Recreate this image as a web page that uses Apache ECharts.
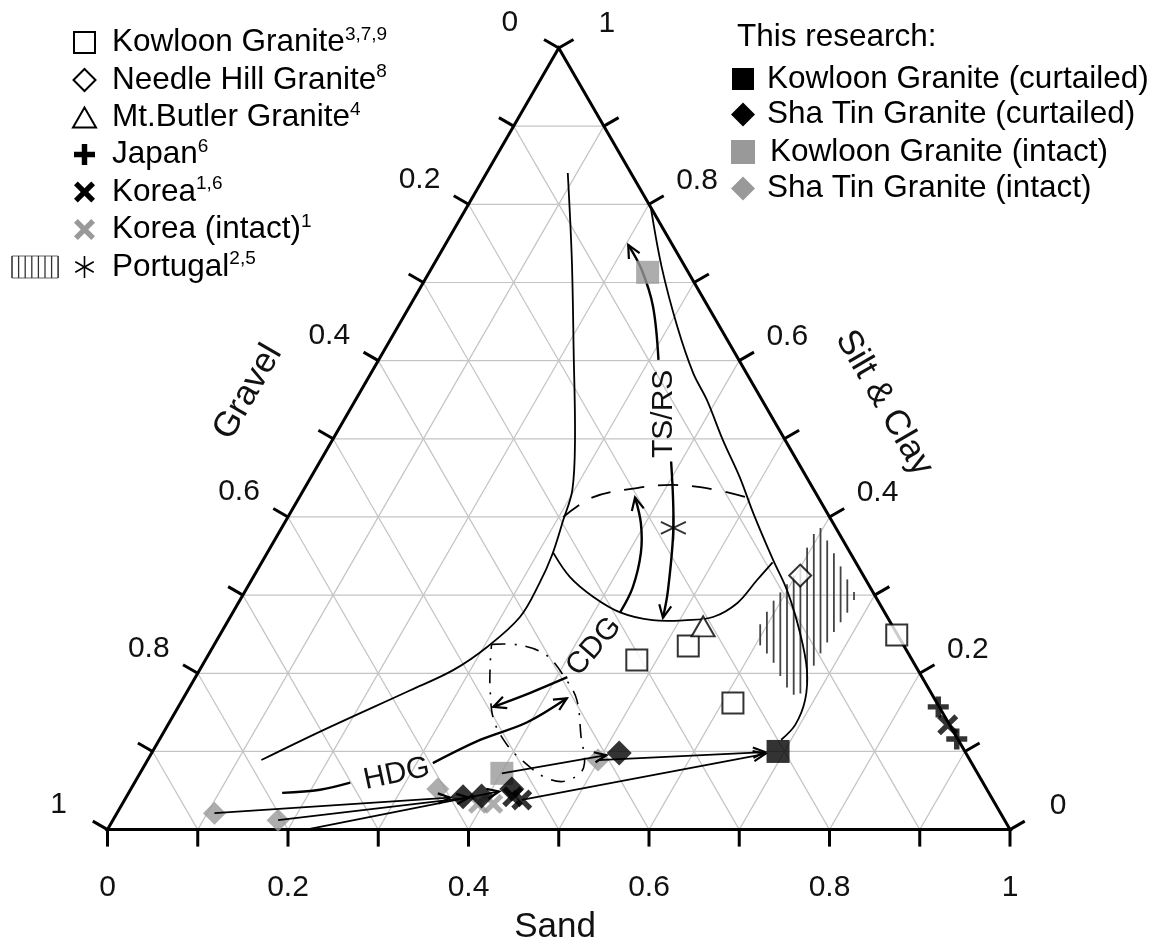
<!DOCTYPE html>
<html>
<head>
<meta charset="utf-8">
<script src="https://cdn.jsdelivr.net/npm/echarts@6/dist/echarts.min.js"></script>
<style>
  html, body { margin: 0; padding: 0; background: #fff; }
  #chart { width: 1160px; height: 944px; }
</style>
</head>
<body>
<div id="chart"></div>
<script>
// Ternary grain-size diagram: Gravel / Sand / Silt & Clay.
// Every composition below is written as [sand, silt & clay]; gravel = 1 - sand - silt & clay.

const FONT = '"Liberation Sans", Arial, Helvetica, sans-serif';

// ---- axes ----
const tickValues = [0, 0.1, 0.2, 0.3, 0.4, 0.5, 0.6, 0.7, 0.8, 0.9, 1];
const gridValues = [0.1, 0.2, 0.3, 0.4, 0.5, 0.6, 0.7, 0.8, 0.9];
const labelValues = [0, 0.2, 0.4, 0.6, 0.8, 1];
const labelTexts = ['0', '0.2', '0.4', '0.6', '0.8', '1'];

// ---- published data ----
const kowloonRef = [[0.478, 0.217], [0.526, 0.235], [0.612, 0.162], [0.750, 0.249]];
const needleHill = [[0.605, 0.325]];
const mtButler = [[0.530, 0.260]];
const japan = [[0.842, 0.157], [0.883, 0.116]];
const korea = [[0.864, 0.134], [0.428, 0.042], [0.440, 0.038]];
const koreaIntact = [[0.394, 0.033], [0.411, 0.033]];
const portugal = [[0.434, 0.386]];
const portugalZone = [
  [0.592, 0.258], [0.591, 0.290], [0.597, 0.319], [0.600, 0.338], [0.592, 0.373],
  [0.596, 0.387], [0.624, 0.358], [0.654, 0.326], [0.680, 0.299], [0.681, 0.278],
  [0.678, 0.249], [0.677, 0.214], [0.682, 0.185], [0.680, 0.168], [0.659, 0.184],
  [0.628, 0.217], [0.605, 0.236]
];

// ---- this research ----
const kowloonCurtailed = [[0.693, 0.100]];
const shaTinCurtailed = [[0.518, 0.098], [0.373, 0.042], [0.393, 0.043], [0.422, 0.052]];
const kowloonIntact = [[0.242, 0.713], [0.401, 0.072]];
const shaTinIntact = [[0.108, 0.021], [0.183, 0.012], [0.340, 0.052], [0.499, 0.089]];

// intact -> curtailed links
const links = [
  [[0.108, 0.021], [0.373, 0.042]],
  [[0.183, 0.012], [0.393, 0.043]],
  [[0.220, 0.000], [0.422, 0.052]],
  [[0.401, 0.072], [0.518, 0.098]],
  [[0.440, 0.038], [0.693, 0.100]],
  [[0.499, 0.089], [0.693, 0.100]]
];

// ---- weathering zones (boundaries) ----
const outerBoundary = [
  [0.090, 0.840], [0.150, 0.729], [0.210, 0.613], [0.269, 0.498], [0.298, 0.434],
  [0.307, 0.396], [0.317, 0.351], [0.321, 0.315], [0.321, 0.272], [0.304, 0.234],
  [0.281, 0.204], [0.246, 0.178], [0.175, 0.127], [0.126, 0.089]
];
const rightBoundary = [
  [0.204, 0.796], [0.254, 0.720], [0.310, 0.643], [0.357, 0.584], [0.389, 0.550],
  [0.433, 0.498], [0.475, 0.451], [0.513, 0.405], [0.565, 0.345], [0.600, 0.306],
  [0.642, 0.251], [0.673, 0.204], [0.690, 0.166], [0.695, 0.134], [0.689, 0.115]
];
const tsrsBoundary = [
  [0.317, 0.354], [0.351, 0.323], [0.389, 0.298], [0.429, 0.278], [0.470, 0.268],
  [0.508, 0.268], [0.535, 0.272], [0.553, 0.290], [0.560, 0.319], [0.566, 0.342]
];
const tsrsDashed = [
  [0.305, 0.400], [0.325, 0.425], [0.368, 0.437], [0.406, 0.441], [0.450, 0.436], [0.496, 0.425]
];
const cdgZone = [
  [0.307, 0.237], [0.339, 0.236], [0.375, 0.223], [0.410, 0.194], [0.437, 0.166],
  [0.464, 0.121], [0.488, 0.079], [0.476, 0.062], [0.451, 0.067], [0.419, 0.086],
  [0.389, 0.108], [0.358, 0.140], [0.335, 0.178], [0.319, 0.210], [0.307, 0.237]
];

// ---- process arrows ----
const hdgTail = [[0.170, 0.047], [0.210, 0.051], [0.239, 0.060]];
const hdgArrow = [[0.318, 0.085], [0.356, 0.115], [0.396, 0.137], [0.425, 0.168]];
const cdgLeftArrow = [[0.412, 0.195], [0.381, 0.175], [0.349, 0.157]];
const cdgUpArrow = [[0.429, 0.278], [0.427, 0.310], [0.414, 0.354], [0.395, 0.392], [0.372, 0.425]];
const tsrsDownArrow = [[0.389, 0.471], [0.434, 0.386], [0.468, 0.306], [0.480, 0.271]];
const tsrsUpArrow = [[0.310, 0.601], [0.270, 0.669], [0.234, 0.716], [0.203, 0.748]];

// zone labels: [sand, silt], rotation in degrees
const zoneLabels = [
  { text: 'TS/RS', at: [0.350, 0.532], rot: 90 },
  { text: 'CDG', at: [0.422, 0.234], rot: 49 },
  { text: 'HDG', at: [0.285, 0.071], rot: 12 }
];

// ---------------------------------------------------------------
const SQ = Math.sqrt(3) / 2;
const tern = p => [p[0] + p[1] / 2, p[1] * SQ];

function single(renderItem, z) {
  return {
    type: 'custom', coordinateSystem: 'cartesian2d', data: [[0, 0]],
    renderItem: renderItem, z: z || 2, silent: true, clip: false
  };
}

function px(api, p) { return api.coord(tern(p)); }

function arrowHead(a, b, len, ang) {
  const dx = b[0] - a[0], dy = b[1] - a[1];
  const t = Math.atan2(dy, dx);
  const l = [b[0] - len * Math.cos(t - ang), b[1] - len * Math.sin(t - ang)];
  const r = [b[0] - len * Math.cos(t + ang), b[1] - len * Math.sin(t + ang)];
  return { type: 'polyline', shape: { points: [l, b, r] },
    style: { stroke: '#000', lineWidth: 2.2, fill: null } };
}

function curve(api, pts, style, arrow) {
  const P = pts.map(p => px(api, p));
  const out = [{ type: 'polyline', shape: { points: P, smooth: P.length > 2 ? 0.35 : 0 },
    style: Object.assign({ stroke: '#000', lineWidth: 2, fill: null }, style) }];
  if (arrow) out.push(arrowHead(P[P.length - 2], P[P.length - 1], 14, 0.45));
  return out;
}

// grid lines
const gridSeries = single(function (params, api) {
  const children = [];
  gridValues.forEach(v => {
    const segs = [
      [[0, v], [1 - v, v]],
      [[v, 0], [v, 1 - v]],
      [[1 - v, 0], [0, 1 - v]]
    ];
    segs.forEach(s => {
      const a = px(api, s[0]), b = px(api, s[1]);
      children.push({ type: 'line', shape: { x1: a[0], y1: a[1], x2: b[0], y2: b[1] },
        style: { stroke: '#c4c4c4', lineWidth: 1.2 } });
    });
  });
  return { type: 'group', children };
}, 1);

// frame, ticks and tick labels
const frameSeries = single(function (params, api) {
  const children = [];
  const A = px(api, [0, 0]), B = px(api, [1, 0]), C = px(api, [0, 1]);
  children.push({ type: 'polygon', shape: { points: [A, B, C] },
    style: { stroke: '#000', lineWidth: 3, fill: null, lineJoin: 'miter' } });
  const TL = 17;
  const sides = [
    { at: v => [v, 0], d: [0, 1], off: [0, 58] },
    { at: v => [1 - v, v], d: [0.866, -0.5], off: [48, -24] },
    { at: v => [0, 1 - v], d: [-0.866, -0.5], off: [-49, -25] }
  ];
  sides.forEach(s => {
    tickValues.forEach(v => {
      const p = px(api, s.at(v));
      children.push({ type: 'line', shape: { x1: p[0], y1: p[1], x2: p[0] + s.d[0] * TL, y2: p[1] + s.d[1] * TL },
        style: { stroke: '#000', lineWidth: 3 } });
    });
    labelValues.forEach((v, i) => {
      const p = px(api, s.at(v));
      children.push({ type: 'text', x: p[0] + s.off[0], y: p[1] + s.off[1],
        style: { text: labelTexts[i], fontSize: 30, fontFamily: FONT, fill: '#111',
          align: 'center', verticalAlign: 'middle' } });
    });
  });
  return { type: 'group', children };
}, 3);

// vertical hatching of the Portugal zone
const hatchSeries = single(function (params, api) {
  const P = portugalZone.map(p => px(api, p));
  const xs = P.map(p => p[0]);
  const minX = Math.min.apply(null, xs), maxX = Math.max.apply(null, xs);
  const children = [];
  for (let x = minX + 2; x < maxX; x += 6.7) {
    const ys = [];
    for (let i = 0; i < P.length; i++) {
      const a = P[i], b = P[(i + 1) % P.length];
      if ((a[0] <= x && b[0] > x) || (b[0] <= x && a[0] > x)) {
        ys.push(a[1] + (x - a[0]) / (b[0] - a[0]) * (b[1] - a[1]));
      }
    }
    ys.sort((m, n) => m - n);
    for (let k = 0; k + 1 < ys.length; k += 2) {
      children.push({ type: 'line', shape: { x1: x, y1: ys[k], x2: x, y2: ys[k + 1] },
        style: { stroke: '#444', lineWidth: 1.8 } });
    }
  }
  return { type: 'group', children };
}, 4);

// zone boundaries, arrows and zone names
const zoneSeries = single(function (params, api) {
  let c = [];
  c = c.concat(curve(api, outerBoundary, { lineWidth: 1.8 }));
  c = c.concat(curve(api, rightBoundary, { lineWidth: 1.8 }));
  c = c.concat(curve(api, tsrsBoundary, { lineWidth: 1.8 }));
  c = c.concat(curve(api, tsrsDashed, { lineWidth: 1.8, lineDash: [20, 14] }));
  c = c.concat(curve(api, cdgZone, { lineWidth: 1.6, lineDash: [14, 9, 2, 9] }));
  c = c.concat(curve(api, hdgTail, { lineWidth: 2.4 }));
  c = c.concat(curve(api, hdgArrow, { lineWidth: 2.4 }, true));
  c = c.concat(curve(api, cdgLeftArrow, { lineWidth: 2.4 }, true));
  c = c.concat(curve(api, cdgUpArrow, { lineWidth: 2.4 }, true));
  c = c.concat(curve(api, tsrsDownArrow, { lineWidth: 2.4 }, true));
  c = c.concat(curve(api, tsrsUpArrow, { lineWidth: 2.4 }, true));
  zoneLabels.forEach(l => {
    const p = px(api, l.at);
    c.push({ type: 'text', x: p[0], y: p[1], rotation: l.rot * Math.PI / 180,
      style: { text: l.text, fontSize: 30, fontFamily: FONT, fill: '#111', align: 'center', verticalAlign: 'middle' } });
  });
  return { type: 'group', children: c };
}, 5);

// intact -> curtailed links
const linkSeries = single(function (params, api) {
  let c = [];
  links.forEach(l => {
    const a = px(api, l[0]), b0 = px(api, l[1]);
    const d = Math.hypot(b0[0] - a[0], b0[1] - a[1]);
    const b = [b0[0] - (b0[0] - a[0]) / d * 13, b0[1] - (b0[1] - a[1]) / d * 13];
    c.push({ type: 'line', shape: { x1: a[0], y1: a[1], x2: b[0], y2: b[1] }, style: { stroke: '#000', lineWidth: 1.8 } });
    c.push(arrowHead(a, b, 13, 0.4));
  });
  return { type: 'group', children: c };
}, 7);

// marker outlines in a 10 x 10 box
const PLUS_PTS = [[3.7,0],[6.3,0],[6.3,3.7],[10,3.7],[10,6.3],[6.3,6.3],[6.3,10],[3.7,10],[3.7,6.3],[0,6.3],[0,3.7],[3.7,3.7]];
const CROSS_PTS = [[0,1.8],[1.8,0],[5,3.2],[8.2,0],[10,1.8],[6.8,5],[10,8.2],[8.2,10],[5,6.8],[1.8,10],[0,8.2],[3.2,5]];
const STAR_SEGS = [[[5,0],[5,10]],[[0.8,2.6],[9.2,7.4]],[[0.8,7.4],[9.2,2.6]]];
const toPath = pts => 'path://M' + pts.map(p => p.join(',')).join('L') + 'Z';
const PLUS = toPath(PLUS_PTS);
const CROSS = toPath(CROSS_PTS);
const STAR = 'path://' + STAR_SEGS.map(s => 'M' + s[0].join(',') + 'L' + s[1].join(',')).join('');

function scatter(name, data, symbol, size, itemStyle, z) {
  return { type: 'scatter', name, data: data.map(tern), symbol, symbolSize: size,
    itemStyle, z: z || 8, silent: true };
}

const series = [
  gridSeries, frameSeries, hatchSeries, zoneSeries,
  scatter('Korea (intact)', koreaIntact, CROSS, 20, { color: '#999' }, 6),
  scatter('Sha Tin Granite (intact)', shaTinIntact, 'diamond', 23, { color: '#999' }, 6),
  scatter('Kowloon Granite (intact)', kowloonIntact, 'rect', 23, { color: '#999' }, 6),
  linkSeries,
  scatter('Kowloon Granite', kowloonRef, 'rect', 21, { color: '#fff', borderColor: '#000', borderWidth: 2 }),
  scatter('Needle Hill Granite', needleHill, 'diamond', 22, { color: '#fff', borderColor: '#000', borderWidth: 2 }),
  scatter('Mt.Butler Granite', mtButler, 'triangle', [23, 20], { color: '#fff', borderColor: '#000', borderWidth: 2 }),
  scatter('Portugal', portugal, STAR, 25, { color: 'rgba(0,0,0,0)', borderColor: '#000', borderWidth: 1.8 }),
  scatter('Japan', japan, PLUS, 21, { color: '#000' }),
  scatter('Korea', korea, CROSS, 21, { color: '#000' }),
  scatter('Sha Tin Granite (curtailed)', shaTinCurtailed, 'diamond', 25, { color: '#000' }, 9),
  scatter('Kowloon Granite (curtailed)', kowloonCurtailed, 'rect', 23, { color: '#000' }, 9)
];

// ---- legends ----
const LF = 31.5;
const sup = { fontSize: 19, fontFamily: FONT, fill: '#000', verticalAlign: 'top', lineHeight: 26 };
const main = { fontSize: LF, fontFamily: FONT, fill: '#000', lineHeight: 35 };
function legendText(x, y, body, s) {
  return { type: 'text', x, y, style: {
    text: '{m|' + body + '}' + (s ? '{s|' + s + '}' : ''),
    rich: { m: main, s: sup }, verticalAlign: 'middle' } };
}
const leftRows = [
  ['Kowloon Granite', '3,7,9'], ['Needle Hill Granite', '8'], ['Mt.Butler Granite', '4'],
  ['Japan', '6'], ['Korea', '1,6'], ['Korea (intact)', '1'], ['Portugal', '2,5']
];
const rightRows = [
  'Kowloon Granite (curtailed)', 'Sha Tin Granite (curtailed)',
  'Kowloon Granite (intact)', 'Sha Tin Granite (intact)'
];
const leftY = [42.5, 80, 117.5, 154.5, 192, 229.5, 267];
const rightY = [79, 114.5, 152, 188.5];
const IX = 84.5;
const graphics = [];
const boxPts = (pts, cx, cy, size) => pts.map(p => [cx - size / 2 + p[0] * size / 10, cy - size / 2 + p[1] * size / 10]);
leftRows.forEach((r, i) => graphics.push(legendText(112, leftY[i], r[0], r[1])));
graphics.push({ type: 'rect', shape: { x: IX - 10.5, y: leftY[0] - 10.5, width: 21, height: 21 },
  style: { fill: '#fff', stroke: '#000', lineWidth: 2 } });
graphics.push({ type: 'polygon', shape: { points: [[IX, leftY[1] - 11], [IX + 11, leftY[1]], [IX, leftY[1] + 11], [IX - 11, leftY[1]]] },
  style: { fill: '#fff', stroke: '#000', lineWidth: 2 } });
graphics.push({ type: 'polygon', shape: { points: [[IX, leftY[2] - 10], [IX + 11.5, leftY[2] + 10], [IX - 11.5, leftY[2] + 10]] },
  style: { fill: '#fff', stroke: '#000', lineWidth: 2 } });
[[3, PLUS_PTS, '#000'], [4, CROSS_PTS, '#000'], [5, CROSS_PTS, '#999']].forEach(d => {
  graphics.push({ type: 'polygon', shape: { points: boxPts(d[1], IX, leftY[d[0]], 21) }, style: { fill: d[2] } });
});
STAR_SEGS.forEach(s => {
  const q = boxPts(s, IX, leftY[6], 22);
  graphics.push({ type: 'line', shape: { x1: q[0][0], y1: q[0][1], x2: q[1][0], y2: q[1][1] },
    style: { stroke: '#000', lineWidth: 1.6 } });
});
graphics.push({ type: 'rect', shape: { x: 12, y: leftY[6] - 11, width: 46, height: 22 },
  style: { fill: null, stroke: '#666', lineWidth: 1 } });
for (let x = 12; x <= 58.5; x += 6.6) {
  graphics.push({ type: 'line', shape: { x1: x, y1: leftY[6] - 11, x2: x, y2: leftY[6] + 11 },
    style: { stroke: '#333', lineWidth: 1.3 } });
}

graphics.push({ type: 'text', x: 737, y: 37, style: { text: 'This research:', fontSize: LF, fontFamily: FONT, fill: '#000', verticalAlign: 'middle' } });
rightRows.forEach((r, i) => graphics.push({ type: 'text', x: i === 2 ? 770 : 767, y: rightY[i],
  style: { text: r, fontSize: LF, fontFamily: FONT, fill: '#000', verticalAlign: 'middle' } }));
const RX = 743;
graphics.push({ type: 'rect', shape: { x: RX - 11, y: rightY[0] - 11, width: 22, height: 22 }, style: { fill: '#000' } });
graphics.push({ type: 'polygon', shape: { points: [[RX, rightY[1] - 12], [RX + 12, rightY[1]], [RX, rightY[1] + 12], [RX - 12, rightY[1]]] }, style: { fill: '#000' } });
graphics.push({ type: 'rect', shape: { x: RX - 12, y: rightY[2] - 12, width: 24, height: 24 }, style: { fill: '#999' } });
graphics.push({ type: 'polygon', shape: { points: [[RX, rightY[3] - 12], [RX + 12, rightY[3]], [RX, rightY[3] + 12], [RX - 12, rightY[3]]] }, style: { fill: '#999' } });

// axis titles
graphics.push({ type: 'text', x: 555, y: 927, style: { text: 'Sand', fontSize: 35, fontFamily: FONT, fill: '#111', align: 'center', verticalAlign: 'middle' } });
graphics.push({ type: 'text', x: 248, y: 392, rotation: Math.PI / 3, style: { text: 'Gravel', fontSize: 35, fontFamily: FONT, fill: '#111', align: 'center', verticalAlign: 'middle' } });
graphics.push({ type: 'text', x: 884, y: 403, rotation: -Math.PI / 3, style: { text: 'Silt & Clay', fontSize: 35, fontFamily: FONT, fill: '#111', align: 'center', verticalAlign: 'middle' } });

const chart = echarts.init(document.getElementById('chart'), null, { renderer: 'canvas' });
chart.setOption({
  animation: false,
  backgroundColor: '#fff',
  grid: { left: 107.5, top: 48, width: 902.5, height: 781.6 },
  xAxis: { type: 'value', min: 0, max: 1, show: false },
  yAxis: { type: 'value', min: 0, max: SQ, show: false },
  series,
  graphic: { elements: graphics }
});
</script>
</body>
</html>
